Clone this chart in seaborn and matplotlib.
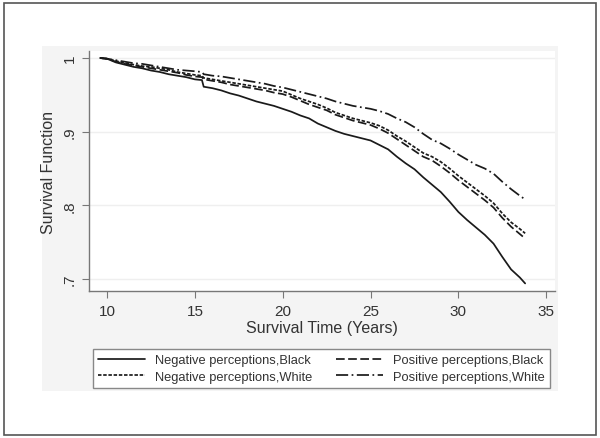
import numpy as np
import pandas as pd
import matplotlib
matplotlib.use("Agg")
import matplotlib.pyplot as plt
import seaborn as sns
from matplotlib.patches import Rectangle

# Tiempos (años) y funciones de supervivencia
times = [9.6, 10.0, 10.5, 11.0, 11.5, 12.0, 12.5, 13.0, 13.5, 14.0,
         14.5, 15.0, 15.4, 15.5, 16.0, 16.5, 17.0, 17.5, 18.0, 18.5, 19.0,
         19.5, 20.0, 20.5, 21.0, 21.5, 22.0, 22.5, 23.0, 23.5, 24.0,
         24.5, 25.0, 25.5, 26.0, 26.5, 27.0, 27.5, 28.0, 28.5, 29.0,
         29.5, 30.0, 30.5, 31.0, 31.5, 32.0, 32.5, 33.0, 33.5, 33.8]

neg_black = [1.000, 0.999, 0.994, 0.991, 0.988, 0.986, 0.983, 0.981, 0.978, 0.976,
             0.974, 0.971, 0.970, 0.961, 0.959, 0.956, 0.952, 0.949, 0.945, 0.941, 0.938,
             0.935, 0.931, 0.927, 0.922, 0.918, 0.911, 0.906, 0.901, 0.897, 0.894,
             0.891, 0.888, 0.882, 0.876, 0.866, 0.857, 0.849, 0.838, 0.828, 0.818,
             0.805, 0.791, 0.780, 0.770, 0.760, 0.748, 0.730, 0.713, 0.702, 0.694]

neg_white = [1.000, 0.999, 0.996, 0.993, 0.991, 0.989, 0.988, 0.986, 0.984, 0.981,
             0.979, 0.977, 0.976, 0.973, 0.971, 0.969, 0.967, 0.965, 0.963, 0.961, 0.959,
             0.957, 0.955, 0.950, 0.945, 0.941, 0.937, 0.932, 0.926, 0.922, 0.918,
             0.915, 0.912, 0.908, 0.902, 0.894, 0.887, 0.879, 0.871, 0.866, 0.859,
             0.850, 0.840, 0.831, 0.822, 0.813, 0.803, 0.789, 0.777, 0.768, 0.762]

pos_black = [1.000, 0.999, 0.995, 0.992, 0.990, 0.988, 0.986, 0.984, 0.982, 0.980,
             0.977, 0.975, 0.974, 0.971, 0.969, 0.967, 0.964, 0.962, 0.960, 0.958, 0.956,
             0.953, 0.951, 0.947, 0.942, 0.937, 0.933, 0.929, 0.923, 0.919, 0.915,
             0.912, 0.909, 0.904, 0.898, 0.890, 0.882, 0.874, 0.866, 0.861, 0.853,
             0.844, 0.834, 0.825, 0.816, 0.807, 0.797, 0.783, 0.771, 0.761, 0.755]

pos_white = [1.000, 0.999, 0.997, 0.995, 0.993, 0.992, 0.990, 0.988, 0.986, 0.984,
             0.983, 0.982, 0.981, 0.978, 0.976, 0.975, 0.973, 0.971, 0.969, 0.967, 0.965,
             0.962, 0.960, 0.957, 0.954, 0.951, 0.948, 0.945, 0.941, 0.938, 0.935,
             0.933, 0.931, 0.928, 0.924, 0.918, 0.913, 0.906, 0.897, 0.889, 0.884,
             0.877, 0.869, 0.862, 0.855, 0.850, 0.843, 0.832, 0.822, 0.813, 0.808]

# orden de la leyenda (se rellena por columnas)
groups = ["Negative perceptions,Black", "Negative perceptions,White",
          "Positive perceptions,Black", "Positive perceptions,White"]
series = [neg_black, neg_white, pos_black, pos_white]

y_ticks = [0.7, 0.8, 0.9, 1.0]
y_tick_labels = [".7", ".8", ".9", "1"]
x_ticks = [10, 15, 20, 25, 30, 35]

df = pd.concat([pd.DataFrame({"time": times, "surv": s, "group": g})
                for g, s in zip(groups, series)], ignore_index=True)

sns.set_style("white")
plt.rcParams["font.family"] = ["Liberation Sans", "DejaVu Sans"]

dash_map = {groups[0]: "", groups[1]: (2, 1), groups[2]: (5, 2), groups[3]: (7, 2, 1, 2)}

fig = plt.figure(figsize=(6.0, 4.39), dpi=100)
fig.patch.set_facecolor("white")

# marco exterior y región gris del gráfico
fig.add_artist(Rectangle((4 / 600, 3 / 439), 592 / 600, 432 / 439, transform=fig.transFigure,
                         facecolor="white", edgecolor="#555555", lw=1.2, zorder=-2))
fig.add_artist(Rectangle((42 / 600, 1 - 392 / 439), 516 / 600, 345 / 439, transform=fig.transFigure,
                         facecolor="#f4f4f4", edgecolor="none", zorder=-1))

ax = fig.add_axes([89 / 600, 1 - 292 / 439, 466 / 600, 240 / 439])
ax.set_zorder(1)
ax.set_facecolor("white")

sns.lineplot(data=df, x="time", y="surv", style="group", style_order=groups,
             dashes=dash_map, color="#1a1a1a", lw=1.25,
             estimator=None, legend=False, ax=ax)

ax.set_xlim(8.97, 35.5)
ax.set_ylim(0.6837, 1.0095)
ax.set_yticks(y_ticks)
ax.set_yticklabels(y_tick_labels, rotation=90, va="center")
ax.set_xticks(x_ticks)
ax.tick_params(axis="both", length=5, width=0.8, color="#777777", labelsize=11,
               labelcolor="#333333", pad=4, left=True, bottom=True)
ax.grid(axis="y", color="#efefef", lw=1)
ax.set_axisbelow(True)

for side in ["top", "right"]:
    ax.spines[side].set_visible(False)
for side in ["left", "bottom"]:
    ax.spines[side].set_color("#777777")
    ax.spines[side].set_linewidth(1)

ax.set_xlabel("Survival Time (Years)", fontsize=11.5, color="#333333", labelpad=2)
ax.set_ylabel("Survival Function", fontsize=11.5, color="#333333", labelpad=5)

handles = ax.get_lines()[:4]
leg = fig.legend(handles, groups, ncol=2, loc="lower left",
                 bbox_to_anchor=(93 / 600, 1 - 389 / 439, 457 / 600, 44 / 439),
                 mode="expand", borderaxespad=0, fontsize=9.3, handlelength=3.65,
                 handletextpad=0.75, labelspacing=0.35, borderpad=0.4,
                 frameon=True, fancybox=False, edgecolor="#888888", facecolor="white",
                 framealpha=1)
leg.set_zorder(2)
leg.get_frame().set_linewidth(1)
for t in leg.get_texts():
    t.set_color("#333333")

fig.savefig("out.png", dpi=100, facecolor="white")
